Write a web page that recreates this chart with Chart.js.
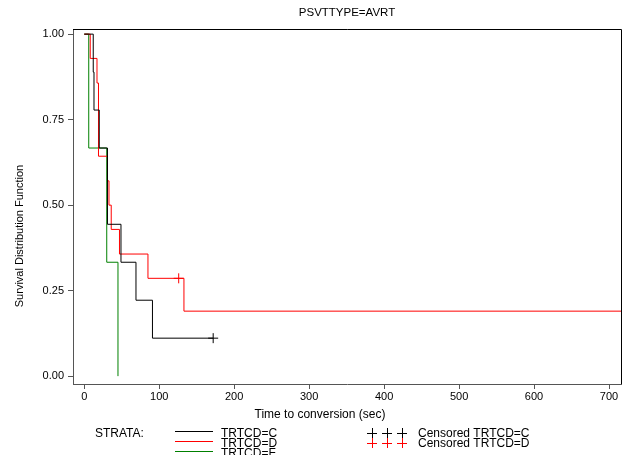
<!DOCTYPE html>
<html>
<head>
<meta charset="utf-8">
<script src="https://cdn.jsdelivr.net/npm/chart.js"></script>
<style>
  html, body { margin: 0; padding: 0; background: #fff; }
  #wrap { width: 629px; height: 455px; }
</style>
</head>
<body>
<div id="wrap"><canvas id="kmChart" width="629" height="455"></canvas></div>
<script>
// Kaplan-Meier step values
const timesC = [0, 12, 13, 20, 31, 49, 69, 91, 172];
const survC = [1, 0.889, 0.778, 0.667, 0.444, 0.333, 0.222, 0.111, 0.111];
const timesD = [0, 8, 17, 19, 31, 33, 36, 47, 85, 133, 720];
const survD = [1, 0.929, 0.857, 0.643, 0.571, 0.5, 0.429, 0.357, 0.286, 0.19, 0.19];
const timesF = [0, 6, 30, 45];
const survF = [1, 0.667, 0.333, 0];
const censorTimesC = [172];
const censorSurvC = [0.111];
const censorTimesD = [126];
const censorSurvD = [0.286];
const xTicks = [0, 100, 200, 300, 400, 500, 600, 700];
const yTicks = [0, 0.25, 0.5, 0.75, 1];

const FONT = 'Liberation Sans, Arial, sans-serif';

function toPoints(xs, ys) {
    return xs.map((x, i) => ({ x: x, y: ys[i] }));
}

function stepSet(label, xs, ys, color) {
    return {
        type: 'line',
        label: label,
        data: toPoints(xs, ys),
        borderColor: color,
        backgroundColor: color,
        borderWidth: 1,
        stepped: 'before',
        pointRadius: 0,
        fill: false
    };
}

function censorSet(label, xs, ys, color) {
    return {
        type: 'scatter',
        label: label,
        data: toPoints(xs, ys),
        borderColor: color,
        backgroundColor: color,
        pointStyle: 'cross',
        pointRadius: 5,
        borderWidth: 1
    };
}

// title, axis labels, frame and SAS-style legend
const extras = {
    id: 'extras',
    afterDraw(chart) {
        const ctx = chart.ctx;
        const a = chart.chartArea;
        ctx.save();
        ctx.strokeStyle = '#000';
        ctx.lineWidth = 1;
        ctx.beginPath();
        ctx.moveTo(a.left, a.top + 0.5);
        ctx.lineTo(a.right + 0.5, a.top + 0.5);
        ctx.lineTo(a.right + 0.5, a.bottom);
        ctx.stroke();

        ctx.fillStyle = '#000';
        ctx.font = '11.5px ' + FONT;
        ctx.textBaseline = 'middle';
        ctx.textAlign = 'center';
        ctx.fillText('PSVTTYPE=AVRT', (a.left + a.right) / 2, 13);

        ctx.font = '12px ' + FONT;
        ctx.fillText('Time to conversion (sec)', 320, 415);

        ctx.save();
        ctx.translate(20, 236);
        ctx.rotate(-Math.PI / 2);
        ctx.font = '11px ' + FONT;
        ctx.fillText('Survival Distribution Function', 0, 0);
        ctx.restore();

        ctx.textAlign = 'left';
        ctx.font = '12px ' + FONT;
        ctx.fillText('STRATA:', 95, 434);

        const rows = [['TRTCD=C', '#000'], ['TRTCD=D', '#ff0000'], ['TRTCD=F', '#008000']];
        rows.forEach((r, i) => {
            const y = 431 + i * 10;
            ctx.strokeStyle = r[1];
            ctx.beginPath();
            ctx.moveTo(175, y + 0.5);
            ctx.lineTo(213, y + 0.5);
            ctx.stroke();
            ctx.fillStyle = '#000';
            ctx.fillText(r[0], 221, 434 + i * 10);
        });

        const cens = [['Censored TRTCD=C', '#000'], ['Censored TRTCD=D', '#ff0000']];
        cens.forEach((r, i) => {
            const y = 433 + i * 10;
            ctx.strokeStyle = r[1];
            [372, 387, 402].forEach(x => {
                ctx.beginPath();
                ctx.moveTo(x - 5, y + 0.5);
                ctx.lineTo(x + 5, y + 0.5);
                ctx.moveTo(x + 0.5, y - 5);
                ctx.lineTo(x + 0.5, y + 5);
                ctx.stroke();
            });
            ctx.fillStyle = '#000';
            ctx.fillText(r[0], 418, 434 + i * 10);
        });
        ctx.restore();
    }
};

const kmCtx = document.getElementById('kmChart');
const kmChart = new Chart(kmCtx, {
    data: {
        datasets: [
            stepSet('TRTCD=C', timesC, survC, '#000000'),
            stepSet('TRTCD=D', timesD, survD, '#ff0000'),
            stepSet('TRTCD=F', timesF, survF, '#008000'),
            censorSet('Censored TRTCD=C', censorTimesC, censorSurvC, '#000000'),
            censorSet('Censored TRTCD=D', censorTimesD, censorSurvD, '#ff0000')
        ]
    },
    options: {
        responsive: false,
        animation: false,
        layout: { padding: { left: 0, top: 29, right: 8, bottom: 0 } },
        plugins: {
            legend: { display: false },
            title: { display: false },
            tooltip: { enabled: false }
        },
        scales: {
            x: {
                type: 'linear',
                min: -15,
                max: 716,
                afterBuildTicks: s => { s.ticks = xTicks.map(v => ({ value: v })); },
                afterFit: s => { s.height = 71; },
                grid: { drawOnChartArea: false, drawTicks: true, tickLength: 5, color: '#555' },
                border: { display: true, color: '#555' },
                ticks: { color: '#000', font: { family: FONT, size: 11 }, padding: 1, maxRotation: 0 }
            },
            y: {
                type: 'linear',
                min: -0.023,
                max: 1.015,
                afterBuildTicks: s => { s.ticks = yTicks.map(v => ({ value: v })); },
                afterFit: s => { s.width = 73; },
                grid: { drawOnChartArea: false, drawTicks: true, tickLength: 5, color: '#555' },
                border: { display: true, color: '#555' },
                ticks: {
                    color: '#000',
                    font: { family: FONT, size: 11 },
                    padding: 4,
                    callback: v => v.toFixed(2)
                }
            }
        }
    },
    plugins: [extras]
});
</script>
</body>
</html>
